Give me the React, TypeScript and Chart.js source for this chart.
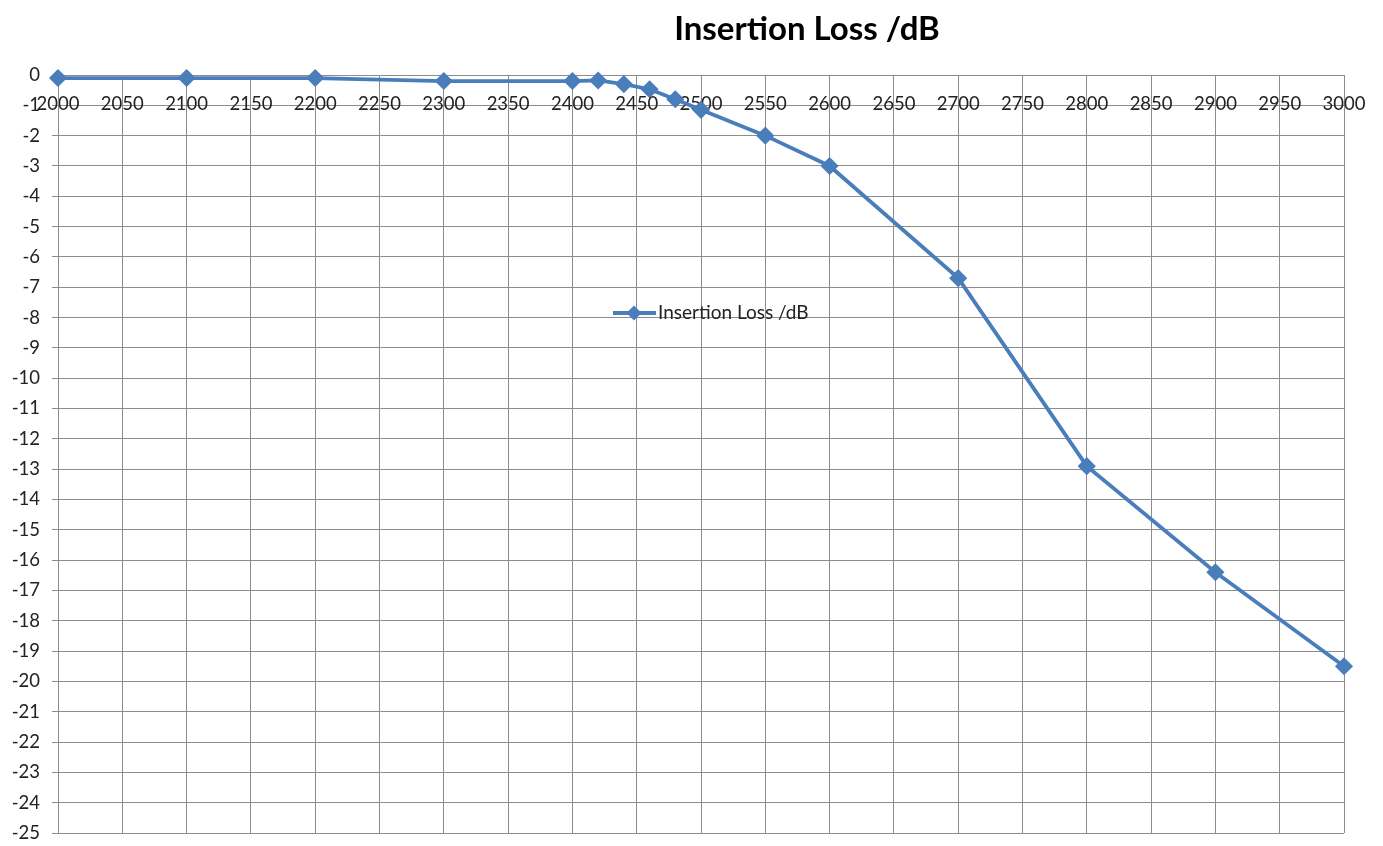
import React, { useEffect, useRef } from "react";
import { Chart, registerables } from "chart.js";

Chart.register(...registerables);

const TITLE = "Insertion Loss /dB";
const SERIES_LABEL = "Insertion Loss /dB";
const frequencies = [2000, 2100, 2200, 2300, 2400, 2420, 2440, 2460, 2480, 2500, 2550, 2600, 2700, 2800, 2900, 3000];
const lossValues = [-0.1, -0.1, -0.1, -0.2, -0.2, -0.18, -0.3, -0.47, -0.8, -1.15, -2.0, -3.0, -6.7, -12.9, -16.4, -19.5];
const X_MIN = 2000;
const X_MAX = 3000;
const X_STEP = 50;
const Y_MIN = -25;
const Y_MAX = 0;
const Y_STEP = 1;

const FONT = "Lato, 'Noto Sans', sans-serif";
const LINE_COLOR = "#4A7EBB";
const GRID_COLOR = "#8c8c8c";

const overlayPlugin = {
  id: "overlay",
  afterDraw(chart: any) {
    const ctx = chart.ctx;
    ctx.save();
    // Title
    ctx.font = `bold 33px ${FONT}`;
    ctx.fillStyle = "#000";
    ctx.textAlign = "center";
    ctx.textBaseline = "middle";
    ctx.fillText(TITLE, 807, 29);
    // Legend
    const ds = chart.data.datasets[0];
    const ly = 313;
    ctx.strokeStyle = ds.borderColor;
    ctx.lineWidth = 3.8;
    ctx.beginPath();
    ctx.moveTo(613, ly);
    ctx.lineTo(656, ly);
    ctx.stroke();
    ctx.fillStyle = ds.borderColor;
    ctx.beginPath();
    ctx.moveTo(634 - 7.5, ly);
    ctx.lineTo(634, ly - 7.5);
    ctx.lineTo(634 + 7.5, ly);
    ctx.lineTo(634, ly + 7.5);
    ctx.closePath();
    ctx.fill();
    ctx.font = `19px ${FONT}`;
    ctx.fillStyle = "#222";
    ctx.textAlign = "left";
    ctx.fillText(ds.label, 658, ly);
    ctx.restore();
  },
};

export default function App() {
  const ref = useRef<HTMLCanvasElement>(null);
  useEffect(() => {
    document.body.style.margin = "0";
    const chart = new Chart(ref.current!, {
      type: "line",
      data: {
        datasets: [
          {
            label: SERIES_LABEL,
            data: frequencies.map((f, i) => ({ x: f, y: lossValues[i] })),
            borderColor: LINE_COLOR,
            backgroundColor: LINE_COLOR,
            borderWidth: 3.8,
            pointStyle: "rectRot",
            pointRadius: 8,
            pointBorderWidth: 1.5,
            pointBackgroundColor: LINE_COLOR,
            pointBorderColor: LINE_COLOR,
            tension: 0,
            clip: false as any,
          },
        ],
      },
      options: {
        animation: false,
        responsive: true,
        maintainAspectRatio: false,
        layout: { padding: { left: 0, top: 75, right: 39, bottom: 13 } },
        plugins: { legend: { display: false }, tooltip: { enabled: false } },
        scales: {
          x: {
            type: "linear",
            position: { y: 0 } as any,
            min: X_MIN,
            max: X_MAX,
            border: { display: false },
            grid: { color: GRID_COLOR, drawTicks: false, lineWidth: 1 },
            afterFit: (s: any) => {
              s.height = 0;
              s.paddingLeft = 0;
              s.paddingRight = 0;
            },
            ticks: {
              stepSize: X_STEP,
              padding: 18,
              color: "#222",
              font: { family: FONT, size: 18.5 },
              maxRotation: 0,
              autoSkip: false,
              callback: (v: any) => String(v),
            },
          },
          y: {
            type: "linear",
            min: Y_MIN,
            max: Y_MAX,
            border: { display: true, color: GRID_COLOR },
            grid: { color: GRID_COLOR, tickLength: 6, lineWidth: 1 },
            afterFit: (s: any) => {
              s.width = 58;
              s.paddingTop = 0;
              s.paddingBottom = 0;
            },
            ticks: {
              stepSize: Y_STEP,
              padding: 12,
              color: "#222",
              font: { family: FONT, size: 18.5 },
              autoSkip: false,
              callback: (v: any) => String(v),
            },
          },
        },
      },
      plugins: [overlayPlugin],
    });
    return () => chart.destroy();
  }, []);
  return (
    <div style={{ width: 1383, height: 846, position: "relative" }}>
      <canvas ref={ref} />
    </div>
  );
}
